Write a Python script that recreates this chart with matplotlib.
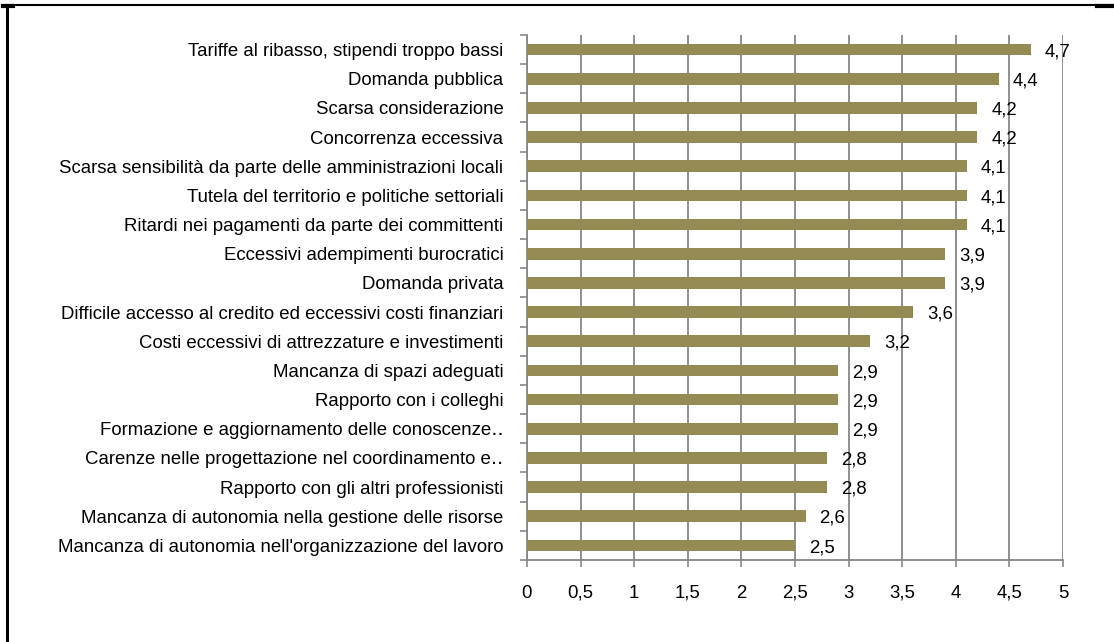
import matplotlib
matplotlib.use("Agg")
import matplotlib.pyplot as plt
from matplotlib.lines import Line2D
from matplotlib.ticker import FixedLocator

categories = [
    "Tariffe al ribasso, stipendi troppo bassi",
    "Domanda pubblica",
    "Scarsa considerazione",
    "Concorrenza eccessiva",
    "Scarsa sensibilità da parte delle amministrazioni locali",
    "Tutela del territorio e politiche settoriali",
    "Ritardi nei pagamenti da parte dei committenti",
    "Eccessivi adempimenti burocratici",
    "Domanda privata",
    "Difficile accesso al credito ed eccessivi costi finanziari",
    "Costi eccessivi di attrezzature e investimenti",
    "Mancanza di spazi adeguati",
    "Rapporto con i colleghi",
    "Formazione e aggiornamento delle conoscenze‥",
    "Carenze nelle progettazione nel coordinamento e‥",
    "Rapporto con gli altri professionisti",
    "Mancanza di autonomia nella gestione delle risorse",
    "Mancanza di autonomia nell'organizzazione del lavoro",
]
values = [4.7, 4.4, 4.2, 4.2, 4.1, 4.1, 4.1, 3.9, 3.9, 3.6, 3.2, 2.9, 2.9, 2.9, 2.8, 2.8, 2.6, 2.5]
x_ticks = [0, 0.5, 1, 1.5, 2, 2.5, 3, 3.5, 4, 4.5, 5]
x_ticklabels = ["0", "0,5", "1", "1,5", "2", "2,5", "3", "3,5", "4", "4,5", "5"]

plt.rcParams['font.family'] = ['Liberation Sans', 'DejaVu Sans']

W, H = 1114, 642
FS = 13.4
fig = plt.figure(figsize=(W / 100, H / 100), dpi=100)
ax = fig.add_axes([527 / W, 1 - 560 / H, (1063 - 527) / W, (560 - 35) / H])

n = len(categories)
ypos = list(range(n))
bar_color = "#948A54"
grid_color = "#878787"

ax.barh(ypos, values, height=0.4, color=bar_color, zorder=3)
ax.set_ylim(n - 0.5, -0.5)
ax.set_xlim(0, 5)

ax.set_yticks(ypos)
ax.set_yticklabels(categories, fontsize=FS, color="black")
ax.tick_params(axis='y', which='major', length=0, pad=17)
ax.yaxis.set_minor_locator(FixedLocator([i - 0.5 for i in range(n + 1)]))
ax.tick_params(axis='y', which='minor', length=5, width=1.2, color=grid_color)

ax.set_xticks(x_ticks)
ax.set_xticklabels(x_ticklabels, fontsize=FS, color="black")
ax.tick_params(axis='x', which='major', length=5, width=1.2, color=grid_color, pad=22)
for lbl in ax.get_xticklabels():
    lbl.set_verticalalignment("baseline")

ax.grid(axis='x', color=grid_color, linewidth=1.3, zorder=0)
for s in ["top", "right"]:
    ax.spines[s].set_visible(False)
for s in ["left", "bottom"]:
    ax.spines[s].set_color(grid_color)
    ax.spines[s].set_linewidth(1.3)

for y, v in zip(ypos, values):
    ax.annotate(f"{v:.1f}".replace(".", ","), (v, y), xytext=(10, -4.8),
                textcoords="offset points", va="baseline", ha="left",
                fontsize=FS, color="black", zorder=4)

# outer frame (page crop)
fig.add_artist(Line2D([6 / W, 1], [1 - 4.5 / H, 1 - 4.5 / H], color="black", lw=1.5, transform=fig.transFigure))
fig.add_artist(Line2D([6.5 / W, 6.5 / W], [0, 1 - 4.5 / H], color="black", lw=2.2, transform=fig.transFigure))
fig.add_artist(Line2D([3 / W, 13 / W], [1 - 5.5 / H, 1 - 5.5 / H], color="black", lw=3, transform=fig.transFigure))
fig.add_artist(Line2D([1097 / W, 1], [1 - 5.5 / H, 1 - 5.5 / H], color="black", lw=3, transform=fig.transFigure))

fig.savefig("out.png", dpi=100, facecolor="white")
